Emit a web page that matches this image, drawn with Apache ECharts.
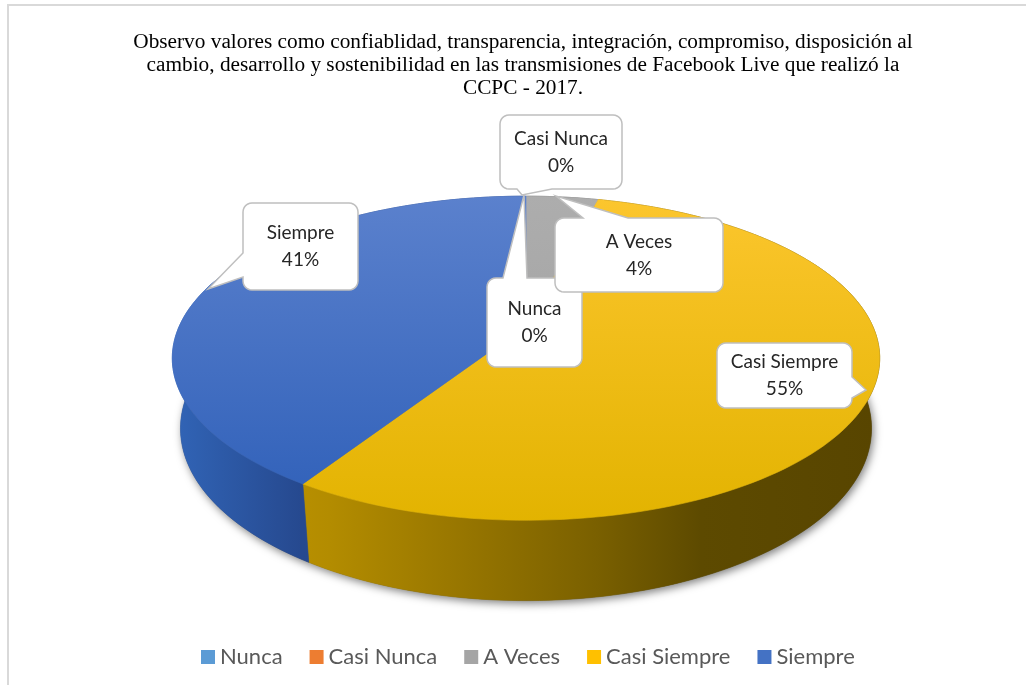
<!DOCTYPE html>
<html><head><meta charset="utf-8">
<script src="https://cdn.jsdelivr.net/npm/echarts@6/dist/echarts.min.js"></script>
<style>html,body{margin:0;padding:0;background:#fff}#c{width:1026px;height:685px}</style>
</head><body><div id="c"></div>
<script>
// ---------- data ----------
const titleLines = [
  'Observo valores como confiablidad, transparencia, integración, compromiso, disposición al',
  'cambio, desarrollo y sostenibilidad en las transmisiones de Facebook Live que realizó la',
  'CCPC - 2017.'
];
const categories = ['Nunca', 'Casi Nunca', 'A Veces', 'Casi Siempre', 'Siempre'];
const values = [0, 0, 4, 55, 41];

// ---------- styles / layout ----------
const colors = ['#5b9bd5', '#ed7d31', '#a5a5a5', '#ffc000', '#4472c4'];
const topStops = [
  [[0, '#7fb0de'], [1, '#5b9bd5']],
  [[0, '#f29458'], [1, '#ed7d31']],
  [[0, '#adadad'], [1, '#9d9d9d']],
  [[0, '#fcc62e'], [1, '#e2b300']],
  [[0, '#5b81cd'], [1, '#2e5fb8']]
];
const wallStops = [
  [[0, '#4a86c0'], [1, '#26507a']],
  [[0, '#c86428'], [1, '#6e3a14']],
  [[0, '#8c8c8c'], [1, '#4a4a4a']],
  [[0, '#c99b00'], [0.22, '#b38c00'], [0.39, '#9a7800'], [0.6, '#7a6000'], [0.75, '#5d4a00'], [1, '#584500']],
  [[0, '#3164b6'], [0.18, '#26498f'], [1, '#1c3670']]
];
// perspective view of the pie
const view = { cx: 526, cy: 326, f: 1560, D: 4.5, sinA: 0.449, cosA: 0.894, h: 0.228 };
// callout boxes: [x, y, w, h], tail edge, tail base a..b, tip
const callouts = [
  { box: [487, 278, 95, 89], edge: 'top', a: 503, b: 527, tip: [524, 195] },
  { box: [500, 115, 122, 74], edge: 'bottom', a: 517, b: 552, tip: [522, 195] },
  { box: [555, 218, 168, 74], edge: 'top', a: 583, b: 628, tip: [556, 196] },
  { box: [717, 343, 135, 65], edge: 'right', a: 377, b: 398, tip: [866, 390] },
  { box: [243, 203, 115, 87], edge: 'left', a: 253, b: 277, tip: [208, 289] }
];

// ---------- geometry ----------
const total = values.reduce((s, v) => s + v, 0);
const starts = [];
let acc = 0;
values.forEach(v => { starts.push(acc); acc += v; });

function project(theta, top) {
  const X = Math.sin(theta), Z = -Math.cos(theta), Y = top ? 0 : -view.h;
  const v = Z * view.sinA - Y * view.cosA;
  const d = view.D - (Z * view.cosA + Y * view.sinA);
  return [view.cx + view.f * X / d, view.cy + view.f * v / d];
}
function sliceAngles(i) {
  return [starts[i] / total * 2 * Math.PI, (starts[i] + values[i]) / total * 2 * Math.PI];
}
function rim(a0, a1, top) {
  const n = Math.max(2, Math.ceil(Math.abs(a1 - a0) * 180 / Math.PI / 1.5));
  const pts = [];
  for (let k = 0; k <= n; k++) pts.push(project(a0 + (a1 - a0) * k / n, top));
  return pts;
}
function grad(x, y, x2, y2, stops) {
  return { type: 'linear', x, y, x2, y2, global: true,
    colorStops: stops.map(s => ({ offset: s[0], color: s[1] })) };
}
function calloutPts(c) {
  const [x, y, w, h] = c.box, r = 9, pts = [];
  const arc = (ax, ay, t0, t1) => { for (let k = 0; k <= 6; k++) { const t = t0 + (t1 - t0) * k / 6; pts.push([ax + r * Math.cos(t), ay + r * Math.sin(t)]); } };
  pts.push([x + r, y]);
  if (c.edge === 'top') pts.push([c.a, y], c.tip, [c.b, y]);
  pts.push([x + w - r, y]);
  arc(x + w - r, y + r, -Math.PI / 2, 0);
  if (c.edge === 'right') pts.push([x + w, c.a], c.tip, [x + w, c.b]);
  pts.push([x + w, y + h - r]);
  arc(x + w - r, y + h - r, 0, Math.PI / 2);
  if (c.edge === 'bottom') pts.push([c.b, y + h], c.tip, [c.a, y + h]);
  pts.push([x + r, y + h]);
  arc(x + r, y + h - r, Math.PI / 2, Math.PI);
  if (c.edge === 'left') pts.push([x, c.b], c.tip, [x, c.a]);
  pts.push([x, y + r]);
  arc(x + r, y + r, Math.PI, 1.5 * Math.PI);
  return pts;
}

const sliceData = categories.map((n, i) => ({ name: n, value: [i, values[i]] }));
const xL = view.cx - 351, xR = view.cx + 351;

const chart = echarts.init(document.getElementById('c'));
chart.setOption({
  animation: false,
  backgroundColor: '#fff',
  title: {
    text: titleLines.join('\n'), left: 518, top: 26, textAlign: 'center',
    textStyle: { fontFamily: 'Liberation Serif', fontSize: 21.3, fontWeight: 'normal', color: '#000', lineHeight: 23 }
  },
  legend: {
    data: categories, left: 196, top: 641, icon: 'rect', itemWidth: 14, itemHeight: 14, itemGap: 27,
    textStyle: { fontFamily: 'Lato', fontSize: 22, color: '#595959' }
  },
  graphic: [{ type: 'rect', silent: true, z: -10, shape: { x: 8, y: 5, width: 1200, height: 1000 },
    style: { fill: 'none', stroke: '#d9d9d9', lineWidth: 2 } }],
  series: [
    { type: 'pie', radius: 0, center: [-200, -200], silent: true,
      label: { show: false }, labelLine: { show: false },
      data: categories.map((n, i) => ({ name: n, value: values[i], itemStyle: { color: colors[i] } })) },
    { type: 'custom', coordinateSystem: 'none', z: 1, silent: true, data: [total],
      renderItem: () => ({ type: 'polygon', shape: { points: rim(0, 2 * Math.PI, false) },
        style: { fill: '#555', shadowBlur: 9, shadowOffsetX: 2, shadowOffsetY: 3, shadowColor: 'rgba(0,0,0,0.5)' } }) },
    { type: 'custom', coordinateSystem: 'none', z: 2, silent: true, data: sliceData,
      renderItem: (params) => {
        const i = params.dataIndex;
        if (!values[i]) return { type: 'group', children: [] };
        const [a0, a1] = sliceAngles(i);
        const pts = rim(a0, a1, true).concat(rim(a1, a0, false));
        const g = grad(xL, 0, xR, 0, wallStops[i]);
        return { type: 'polygon', shape: { points: pts }, style: { fill: g, stroke: g, lineWidth: 0.6 } };
      } },
    { type: 'custom', coordinateSystem: 'none', z: 3, silent: true, data: sliceData,
      renderItem: (params) => {
        const i = params.dataIndex;
        if (!values[i]) return { type: 'group', children: [] };
        const [a0, a1] = sliceAngles(i);
        const pts = [[view.cx, view.cy]].concat(rim(a0, a1, true));
        const g = grad(0, 195, 0, 525, topStops[i]);
        return { type: 'polygon', shape: { points: pts }, style: { fill: g, stroke: g, lineWidth: 0.6 } };
      } },
    { type: 'custom', coordinateSystem: 'none', z: 4, silent: true, data: sliceData,
      renderItem: (params) => {
        const i = params.dataIndex, c = callouts[i];
        const pct = Math.round(values[i] / total * 100) + '%';
        return { type: 'group', children: [
          { type: 'polygon', shape: { points: calloutPts(c) }, style: { fill: '#fff', stroke: '#bfbfbf', lineWidth: 1.5 } },
          { type: 'text', style: { text: categories[i] + '\n' + pct, x: c.box[0] + c.box[2] / 2, y: c.box[1] + c.box[3] / 2,
            align: 'center', verticalAlign: 'middle', fontFamily: 'Lato', fontSize: 19, lineHeight: 27, fill: '#262626' } }
        ] };
      } }
  ]
});
</script>
</body></html>
